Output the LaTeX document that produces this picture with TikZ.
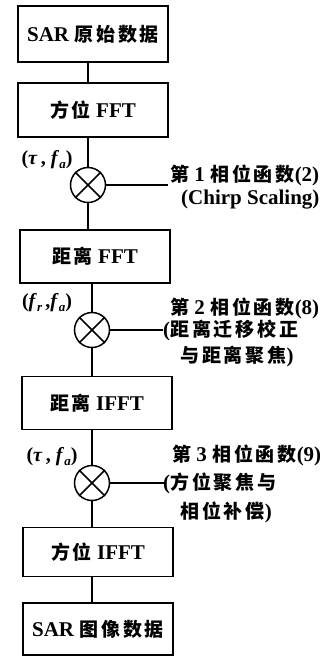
\documentclass[tikz,border=0pt]{standalone}
\usepackage{fontspec}
\setmainfont{Liberation Serif}
\newfontfamily\cjk{Noto Sans CJK SC}[LetterSpace=15]
\newcommand{\zh}[1]{{\cjk\bfseries\fontsize{19}{21}\selectfont #1}}
\newcommand{\sbs}[1]{\raisebox{-0.35ex}{\fontsize{13}{13}\selectfont\textit{#1}}}
\begin{document}
\begin{tikzpicture}[x=1pt,y=-1pt,
  stepbox/.style={draw,line width=1.6pt,minimum width=150pt,minimum height=53pt,inner sep=0pt,font=\fontsize{21}{23}\selectfont\bfseries},
  mult/.style={draw,circle,line width=1.5pt,minimum size=35pt,inner sep=0pt},
  conn/.style={line width=1.3pt},
  sidetext/.style={anchor=west,inner sep=0pt,font=\fontsize{21}{23}\selectfont\bfseries},
  coordlab/.style={inner sep=0pt,font=\fontsize{20}{22}\selectfont\bfseries}]
\useasboundingbox (0,0) rectangle (327,657);
\fill[white] (0,0) rectangle (327,657);
\node[stepbox,minimum height=56pt] (b1) at (93,34) {SAR \zh{原始数据}};
\node[stepbox,minimum height=54pt] (b2) at (93,110) {\zh{方位} FFT};
\node[mult] (m1) at (88,185) {};
\node[stepbox] (b3) at (95,256.5) {\zh{距离} FFT};
\node[mult] (m2) at (92,330) {};
\node[stepbox] (b4) at (97,403) {\zh{距离} IFFT};
\node[mult] (m3) at (92,483) {};
\node[stepbox,minimum height=49pt] (b5) at (98,552) {\zh{方位} IFFT};
\node[stepbox,minimum height=52pt] (b6) at (98,629) {SAR \zh{图像数据}};
\foreach \m in {m1,m2,m3}{
  \draw[line width=1.5pt] (\m.45) -- (\m.225) (\m.135) -- (\m.315);
}
\coordinate (e1) at (168,185);
\coordinate (e2) at (163,330);
\coordinate (e3) at (165,483);
\draw[conn] (b1.south -| m1) -- (b2.north -| m1);
\draw[conn] (b2.south -| m1) -- (m1.north);
\draw[conn] (m1.south) -- (b3.north -| m1);
\draw[conn] (b3.south -| m2) -- (m2.north);
\draw[conn] (m2.south) -- (b4.north -| m2);
\draw[conn] (b4.south -| m3) -- (m3.north);
\draw[conn] (m3.south) -- (b5.north -| m3);
\draw[conn] (b5.south -| m3) -- (b6.north -| m3);
\draw[conn] (m1.east) -- (e1);
\draw[conn] (m2.east) -- (e2);
\draw[conn] (m3.east) -- (e3);
\node[coordlab] (l1) at (47,160) {(\textit{τ}\,, \textit{f}\sbs{a})};
\node[coordlab] (l2) at (47,303) {(\textit{f}\sbs{r}\,,\textit{f}\sbs{a})};
\node[coordlab] (l3) at (52,457) {(\textit{τ}\,, \textit{f}\sbs{a})};
\node[sidetext] (t1a) at (170,175) {\zh{第} 1 \zh{相位函数}(2)};
\node[sidetext] (t1b) at (181,200) {(Chirp Scaling)};
\node[sidetext] (t2a) at (170,308) {\zh{第} 2 \zh{相位函数}(8)};
\node[sidetext] (t2b) at (163,330) {(\zh{距离迁移校正}};
\node[sidetext] (t2c) at (180,357) {\zh{与距离聚焦})};
\node[sidetext] (t3a) at (172,455) {\zh{第} 3 \zh{相位函数}(9)};
\node[sidetext] (t3b) at (163,483) {(\zh{方位聚焦与}};
\node[sidetext] (t3c) at (180,512) {\zh{相位补偿})};
\end{tikzpicture}
\end{document}
